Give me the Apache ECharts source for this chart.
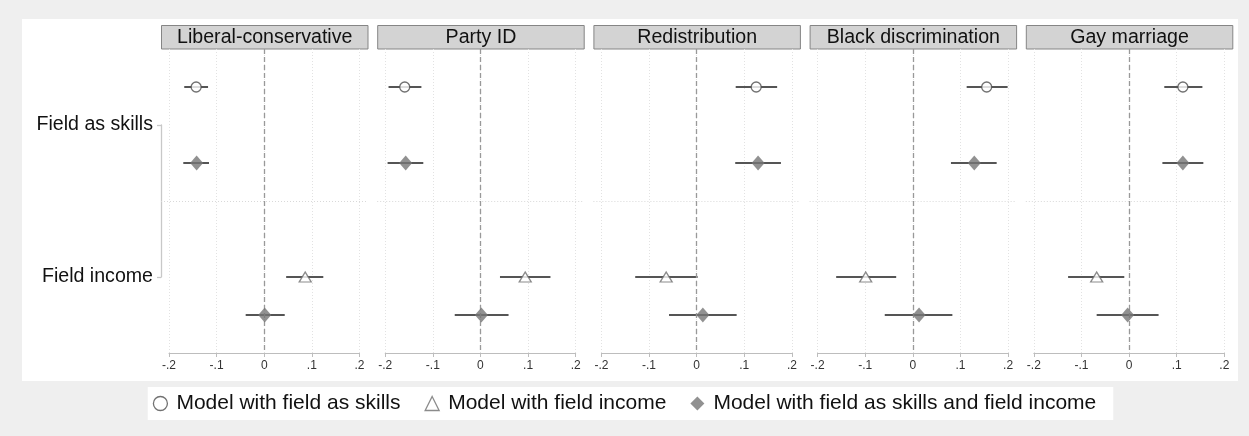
<!DOCTYPE html>
<html>
<head>
<meta charset="utf-8">
<script src="https://cdn.jsdelivr.net/npm/echarts@6/dist/echarts.min.js"></script>
<style>
  html, body { margin: 0; padding: 0; background: #efefef; }
  #chart { width: 1249px; height: 436px; }
</style>
</head>
<body>
<div id="chart"></div>
<script>
// ===== data =====
const outcomes = ['Liberal-conservative', 'Party ID', 'Redistribution', 'Black discrimination', 'Gay marriage']
const terms = ['Field as skills', 'Field income']
const models = ['Model with field as skills', 'Model with field income', 'Model with field as skills and field income']
const xTicks = ['-.2', '-.1', '0', '.1', '.2']

// [estimate, lower, upper] for each outcome
const skillsModel1 = [[-0.143, -0.168, -0.118], [-0.159, -0.193, -0.124], [0.125, 0.082, 0.169], [0.155, 0.113, 0.199], [0.113, 0.074, 0.154]]
const skillsModel3 = [[-0.142, -0.170, -0.116], [-0.157, -0.195, -0.120], [0.129, 0.081, 0.177], [0.129, 0.080, 0.176], [0.113, 0.070, 0.156]]
const incomeModel2 = [[0.086, 0.046, 0.124], [0.094, 0.041, 0.147], [-0.064, -0.129, 0.002], [-0.099, -0.161, -0.035], [-0.068, -0.128, -0.010]]
const incomeModel3 = [[0.001, -0.039, 0.043], [0.002, -0.054, 0.059], [0.013, -0.058, 0.084], [0.013, -0.059, 0.083], [-0.003, -0.068, 0.062]]

// which term / model each estimate list belongs to
const rows = [
  { term: 0, model: 0, values: skillsModel1 },
  { term: 0, model: 2, values: skillsModel3 },
  { term: 1, model: 1, values: incomeModel2 },
  { term: 1, model: 2, values: incomeModel3 }
]

// ===== style =====
const FONT = '"Liberation Sans", Arial, sans-serif'
const modelOffset = [-0.25, 0, 0.25]
const markerStyle = [
  { symbol: 'circle', symbolSize: 10, itemStyle: { color: '#fff', borderColor: '#4d4d4d', borderWidth: 1.3 } },
  { symbol: 'triangle', symbolSize: [12, 10], itemStyle: { color: '#fff', borderColor: '#6e6e6e', borderWidth: 1.3 } },
  { symbol: 'diamond', symbolSize: [13, 15], itemStyle: { color: '#757575', borderWidth: 0 } }
]

const panelStep = 216.2
const axisLeft = 169
const axisWidth = 190.5
const plotTop = 49
const plotHeight = 304
const pad = 8

const grid = []
const xAxis = []
const yAxis = []
const series = []
const graphic = [
  { type: 'rect', left: 22, top: 19, shape: { width: 1216, height: 362 }, style: { fill: '#fff' }, z: -10 }
]

outcomes.forEach((name, k) => {
  const left = axisLeft + k * panelStep
  // wide grid: separator line spanning full panel
  grid.push({ left: left - pad, top: plotTop, width: axisWidth + 2 * pad, height: plotHeight })
  // axis grid: -.2 .. .2
  grid.push({ left: left, top: plotTop, width: axisWidth, height: plotHeight })

  xAxis.push({ gridIndex: 2 * k, type: 'value', min: -1, max: 1, show: false })
  xAxis.push({
    gridIndex: 2 * k + 1, type: 'value', min: -0.2, max: 0.2, interval: 0.1,
    axisLine: { show: true, lineStyle: { color: '#bdbdbd', width: 1 } },
    axisTick: { show: true, length: 4, lineStyle: { color: '#bdbdbd' } },
    axisLabel: {
      fontSize: 12, color: '#333', fontFamily: FONT, margin: 7,
      showMinLabel: true, showMaxLabel: true,
      formatter: v => xTicks[Math.round((v + 0.2) / 0.1)]
    },
    splitLine: { show: true, lineStyle: { color: '#e2e2e2', type: [1, 2] } }
  })
  yAxis.push({ gridIndex: 2 * k, type: 'value', min: 0.5, max: 2.5, inverse: true, show: false })
  yAxis.push({ gridIndex: 2 * k + 1, type: 'value', min: 0.5, max: 2.5, inverse: true, show: false })

  // separator between terms
  series.push({
    type: 'line', xAxisIndex: 2 * k, yAxisIndex: 2 * k, data: [], silent: true,
    markLine: {
      silent: true, symbol: 'none', label: { show: false },
      lineStyle: { color: '#d9d9d9', type: [1, 2], width: 1 },
      data: [{ yAxis: 1.5 }]
    }
  })

  // confidence intervals + zero line
  series.push({
    type: 'custom', xAxisIndex: 2 * k + 1, yAxisIndex: 2 * k + 1, silent: true, z: 3,
    data: rows.map(r => [r.values[k][1], r.values[k][2], r.term + 1 + modelOffset[r.model]]),
    encode: { x: [0, 1], y: 2 },
    renderItem(params, api) {
      const p0 = api.coord([api.value(0), api.value(2)])
      const p1 = api.coord([api.value(1), api.value(2)])
      return {
        type: 'line',
        shape: { x1: p0[0], y1: p0[1], x2: p1[0], y2: p1[1] },
        style: { stroke: '#555', lineWidth: 2 }
      }
    },
    markLine: {
      silent: true, symbol: 'none', label: { show: false },
      lineStyle: { color: '#999', type: [5, 3], width: 1.3 },
      data: [{ xAxis: 0 }]
    }
  })

  // point estimates
  models.forEach((m, mi) => {
    series.push({
      name: m, type: 'scatter', xAxisIndex: 2 * k + 1, yAxisIndex: 2 * k + 1, z: 5,
      symbol: markerStyle[mi].symbol, symbolSize: markerStyle[mi].symbolSize,
      itemStyle: markerStyle[mi].itemStyle,
      data: rows.filter(r => r.model === mi).map(r => [r.values[k][0], r.term + 1 + modelOffset[r.model]])
    })
  })

  // panel header
  graphic.push({
    type: 'group', left: left - pad, top: 25, z: 10,
    children: [
      { type: 'rect', shape: { x: 0, y: 0, width: axisWidth + 2 * pad, height: 23.5 }, style: { fill: '#d3d3d3', stroke: '#858585', lineWidth: 1 } },
      { type: 'text', x: (axisWidth + 2 * pad) / 2, y: 12, style: { text: name, font: '19.6px ' + FONT, fill: '#111', align: 'center', verticalAlign: 'middle' } }
    ]
  })
})

// term labels with the bracket line
grid.push({ left: axisLeft - pad, top: 125, width: 10, height: 152 })
xAxis.push({ gridIndex: 10, type: 'value', show: false })
yAxis.push({
  gridIndex: 10, type: 'value', min: 1, max: 2, interval: 1, inverse: true,
  axisLine: { show: true, lineStyle: { color: '#c8c8c8', width: 1.3 } },
  axisTick: { show: true, length: 4, lineStyle: { color: '#c8c8c8', width: 1.3 } },
  axisLabel: { fontSize: 19.6, color: '#111', fontFamily: FONT, margin: 8, formatter: v => terms[v - 1] },
  splitLine: { show: false }
})

const chart = echarts.init(document.getElementById('chart'))
chart.setOption({
  animation: false,
  backgroundColor: '#efefef',
  textStyle: { fontFamily: FONT },
  grid, xAxis, yAxis, series, graphic,
  legend: {
    top: 387, left: 'center',
    backgroundColor: '#fff',
    padding: [6, 17, 6, 5],
    itemGap: 24, itemWidth: 14, itemHeight: 14,
    textStyle: { fontSize: 21, color: '#111', fontFamily: FONT, padding: [0, 0, 0, 4] },
    data: models.map((m, mi) => ({
      name: m,
      icon: markerStyle[mi].symbol,
      itemStyle: markerStyle[mi].itemStyle
    }))
  }
})
</script>
</body>
</html>
